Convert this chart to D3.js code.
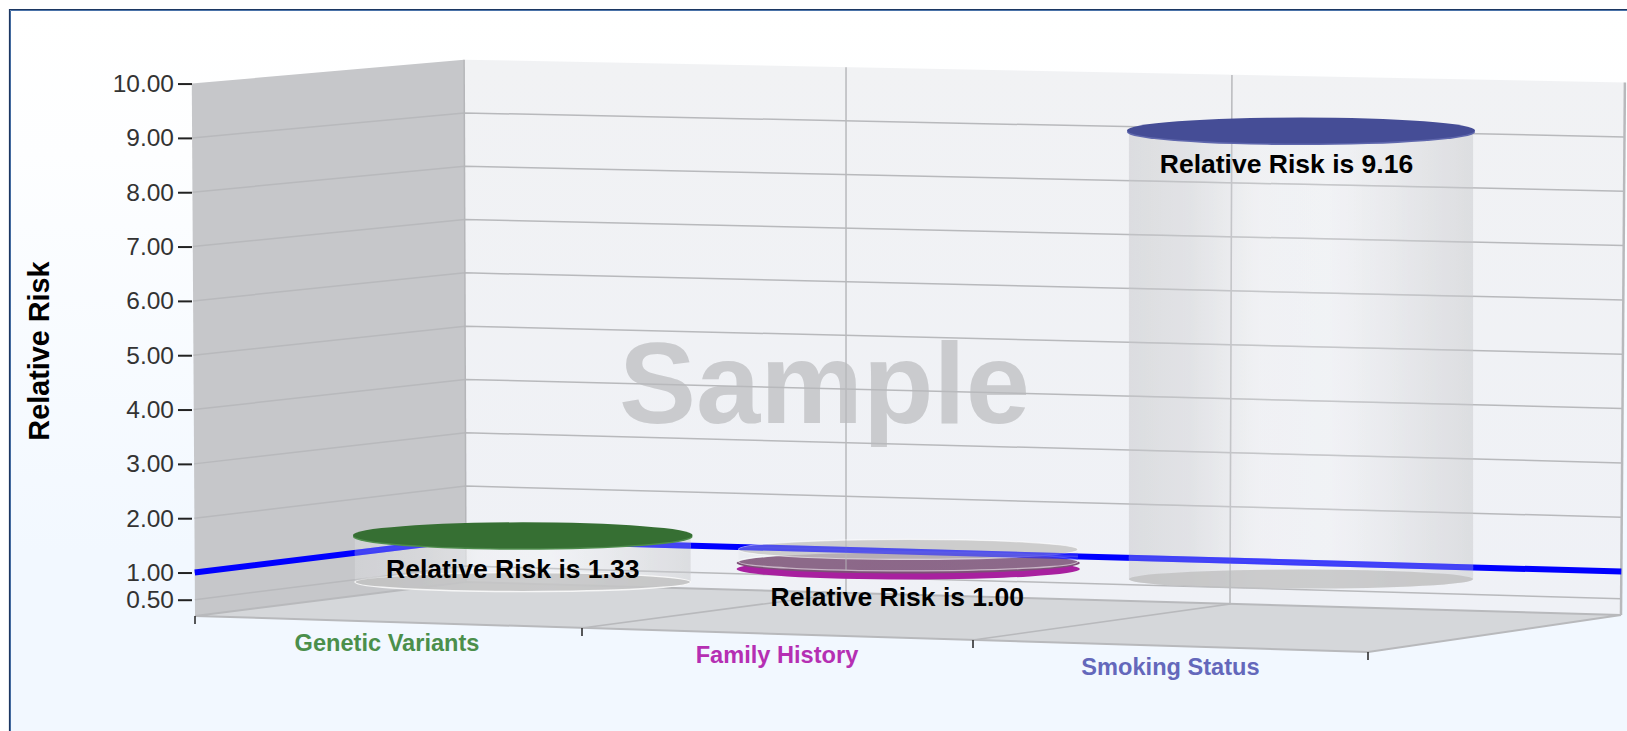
<!DOCTYPE html>
<html><head><meta charset="utf-8">
<script src="https://cdn.jsdelivr.net/npm/d3@7"></script>
<style>html,body{margin:0;padding:0;background:#fff;overflow:hidden}svg{display:block}text{font-family:"Liberation Sans",Arial,sans-serif}</style>
</head><body><svg id="c" width="1627" height="731"></svg>
<script>
// ---- data ----
const categories = ["Genetic Variants", "Family History", "Smoking Status"];
const relativeRisk = [1.33, 1.00, 9.16];
const tickValues = [0.5, 1, 2, 3, 4, 5, 6, 7, 8, 9, 10];
const gridValues = [0.5, 1, 2, 3, 4, 5, 6, 7, 8, 9];
const referenceValue = 1;
// plotted heights in axis units at each cylinder's depth plane
const glassBase = [0.62, 1.21, 1.09];
const glassTop = [1.486, 1.43, 9.30];
const capBase = [1.46, 1.07, 9.27];
const capTop = [1.486, 1.18, 9.30];
// ---- styles ----
const capFill = ["#366f33", "#7d5077", "#454d96"];
const rimFill = ["#4f8d4d", "#a8209f", "#5f67ad"];
const labelFill = ["#4b8f4b", "#b52fb3", "#6468bb"];
const cylNudge = [0.5, 0.5, 3];
const labelNudge = [-10, -11, -14.5];
const catNudge = [-0.5, 0.5, 1];

const W = 1627, H = 731, minV = 0.2;
const svg = d3.select("#c");
const defs = svg.append("defs");
const bg = defs.append("linearGradient").attr("id","bg").attr("x1",0).attr("x2",0).attr("y1",0).attr("y2",1);
[[0,"#ffffff"],[0.2,"#fdfeff"],[0.75,"#f2f8ff"],[1,"#f2f8ff"]].forEach(s=>bg.append("stop").attr("offset",s[0]).attr("stop-color",s[1]));
const bw = defs.append("linearGradient").attr("id","bw").attr("x1",0).attr("x2",0).attr("y1",0).attr("y2",1);
[[0,"#f1f2f4"],[1,"#eff1f6"]].forEach(s=>bw.append("stop").attr("offset",s[0]).attr("stop-color",s[1]));
const gl = defs.append("linearGradient").attr("id","gl");
[[0,"#d4d5d8",0.72],[0.18,"#dcdde0",0.72],[0.38,"#f0f1f3",0.6],[0.58,"#f2f3f6",0.6],[0.85,"#dfe0e3",0.72],[1,"#d6d7da",0.75]]
  .forEach(s=>gl.append("stop").attr("offset",s[0]).attr("stop-color",s[1]).attr("stop-opacity",s[2]));

// ---- 3-D box mapped through scales: u = category position, d = depth (0 front, 1 back), v = value ----
const frontX = d3.scaleLinear().domain([0,1,2,3]).range([195,582,973,1368]);
const backX  = d3.scaleLinear().domain([0,1,2,3]).range([466,846,1230,1621]);
const frontY = d3.scaleLinear().domain([0,3]).range([616,652]);
const backY  = d3.scaleLinear().domain([0,3]).range([582,615]);
const frontUnit = d3.scaleLinear().domain([0,3]).range([54.33,55.3]);
const backUnit  = d3.scaleLinear().domain([0,3]).range([53.3,54.33]);
const lean = 0.005, leanCenter = 840;
function groundX(u,d){ return frontX(u)+(backX(u)-frontX(u))*d; }
function planeY(u,d){
  const g = frontY(u)+(backY(u)-frontY(u))*d, k = frontUnit(u)+(backUnit(u)-frontUnit(u))*d;
  return d3.scaleLinear().domain([minV,10]).range([g, g-(10-minV)*k]);
}
function P(u,d,v){
  const gx = groundX(u,d);
  return [gx+(gx-leanCenter)*lean*(v-minV)/(10-minV), planeY(u,d)(v)];
}
const line = d3.line();

// page / frame
svg.append("rect").attr("x",10).attr("y",10).attr("width",W-10).attr("height",H-10).attr("fill","url(#bg)");
svg.append("path").attr("d",`M10.5,${H}V10.5H${W}`).attr("fill","none").attr("stroke","#4a72a8").attr("stroke-width",1);
svg.append("path").attr("d",`M9.5,${H}V9.5H${W}`).attr("fill","none").attr("stroke","#1c3762").attr("stroke-width",1.2);

// walls and floor
svg.append("path").attr("d",line([P(0,0,10),P(0,1,10),P(0,1,minV),P(0,0,minV)])+"Z").attr("fill","#c6c7ca");
svg.append("path").attr("d",line([P(0,1,10),P(3,1,10),P(3,1,minV),P(0,1,minV)])+"Z").attr("fill","url(#bw)");
svg.append("path").attr("d",line([P(0,0,minV),P(0,1,minV),P(3,1,minV),P(3,0,minV)])+"Z").attr("fill","#d5d7da");

// watermark sits below the grid
svg.append("text").attr("x",824.5).attr("y",423).attr("text-anchor","middle")
  .attr("font-size",115.5).attr("font-weight","bold").attr("fill","#cacbce").text("Sample");

// grid
const gridStroke = "#b8b9bc";
const gridG = svg.append("g").attr("fill","none").attr("stroke",gridStroke).attr("stroke-width",1.5);
function drawGrid(sel){
  gridValues.forEach(v=>{
    sel.append("path").attr("d",line([P(0,0,v),P(0,1,v),P(3,1,v)]));
  });
  [1,2].forEach(u=>{
    sel.append("path").attr("d",line([P(u,1,10),P(u,1,minV),P(u,0,minV)]));
  });
}
drawGrid(gridG);
gridG.append("path").attr("d",line([P(0,1,10),P(0,1,minV)])).attr("stroke","#b5b6b9");
gridG.append("path").attr("d",line([P(3,1,10),P(3,1,minV)])).attr("stroke-width",2.5);
gridG.append("path").attr("d",line([P(0,0,minV),P(3,0,minV),P(3,1,minV),P(0,1,minV),P(0,0,minV)])).attr("stroke-width",2);

// reference line on the walls
const refPath = line([P(0,0,referenceValue),P(0,1,referenceValue),P(3,1,referenceValue)]);
svg.append("path").attr("d",refPath).attr("fill","none").attr("stroke","#0000ff").attr("stroke-width",6);

// value axis
const axisScale = planeY(0,0);
const axis = d3.axisLeft(axisScale).tickValues(tickValues).tickFormat(d3.format(".2f")).tickSize(14).tickPadding(4);
const ax = svg.append("g").attr("transform","translate(192,0)").call(axis);
ax.select(".domain").remove();
ax.selectAll(".tick line").attr("stroke","#222").attr("stroke-width",2);
ax.selectAll(".tick text").attr("font-size",24.5).attr("fill","#333").style("font-family",'"Liberation Sans",Arial,sans-serif');

// axis title
svg.append("text").attr("transform","translate(49,351) rotate(-90)").attr("text-anchor","middle")
  .attr("font-size",28.8).attr("font-weight","bold").attr("fill","#000").text("Relative Risk");

// category ticks & labels
d3.range(0,4).forEach(u=>{
  const [x,y]=P(u,0,minV);
  svg.append("line").attr("x1",x).attr("x2",x).attr("y1",y).attr("y2",y+8).attr("stroke","#222").attr("stroke-width",1.5);
});
categories.forEach((c,i)=>{
  const [x,y]=P(i+0.5,0,minV);
  svg.append("text").attr("x",x-1+catNudge[i]).attr("y",y+29).attr("text-anchor","middle")
    .attr("font-size",23.6).attr("font-weight","bold").attr("fill",labelFill[i]).text(c);
});

// cylinders
const rxShare = 0.443, capRy = 13, glassRy = 9.5;
categories.forEach((c,i)=>{
  const u=i+0.5, d=0.5, py=planeY(u,d), cx=groundX(u,d)+cylNudge[i];
  const cell = groundX(i+1,d)-groundX(i,d), rx=cell*rxShare;
  const g = svg.append("g");
  const capBelow = capTop[i] < glassTop[i];
  const ry = capBelow ? 10.5 : capRy;
  const drawCap = ()=>{
    g.append("ellipse").attr("cx",cx).attr("cy",py(capBase[i])).attr("rx",rx).attr("ry",ry).attr("fill",rimFill[i]);
    g.append("ellipse").attr("cx",cx).attr("cy",py(capTop[i])).attr("rx",rx).attr("ry",ry).attr("fill",capFill[i]);
  };
  if(capBelow) drawCap();
  const yb=py(glassBase[i]), yt=py(glassTop[i]), rg=rx-2;
  const topRyG = capBelow?10:glassRy;
  const bodyPath = `M${cx-rg},${yt}V${yb}A${rg},${glassRy} 0 0 0 ${cx+rg},${yb}V${yt}A${rg},${topRyG} 0 0 1 ${cx-rg},${yt}Z`;
  defs.append("clipPath").attr("id","clip"+i).append("path")
    .attr("d",`M${cx-rg},${yt}V${yb}A${rg},${glassRy} 0 0 0 ${cx+rg},${yb}V${yt}A${rg},${topRyG} 0 0 0 ${cx-rg},${yt}Z`);
  // glass body
  g.append("path").attr("d",bodyPath).attr("fill","url(#gl)").attr("fill-opacity",capBelow?0.2:1);
  // base disc
  g.append("ellipse").attr("cx",cx).attr("cy",yb).attr("rx",rg).attr("ry",glassRy)
    .attr("fill","#bdbdbd").attr("fill-opacity",capBelow?0.06:0.72)
    .attr("stroke","#ffffff").attr("stroke-opacity",i===2?0:(capBelow?0.55:0.8)).attr("stroke-width",1.4);
  if(capBelow){
    g.append("ellipse").attr("cx",cx).attr("cy",yt).attr("rx",rg).attr("ry",topRyG)
      .attr("fill","#c4c4c4").attr("fill-opacity",0.8).attr("stroke","#fff").attr("stroke-opacity",0.6).attr("stroke-width",1.2);
  }
  // grid and reference line show through the glass
  const through = g.append("g").attr("clip-path",`url(#clip${i})`);
  drawGrid(through.append("g").attr("fill","none").attr("stroke",gridStroke).attr("stroke-width",1.5).attr("opacity",0.6));
  through.append("path").attr("d",refPath).attr("fill","none").attr("stroke","#1a1aff").attr("stroke-width",6).attr("opacity",capBelow?0.6:0.7);
  if(!capBelow) drawCap();
  g.append("text").attr("x",cx+labelNudge[i]).attr("y",py(capTop[i])+43).attr("text-anchor","middle")
    .attr("font-size",26.5).attr("font-weight","bold").attr("fill","#000")
    .text("Relative Risk is "+relativeRisk[i].toFixed(2));
});
</script></body></html>
